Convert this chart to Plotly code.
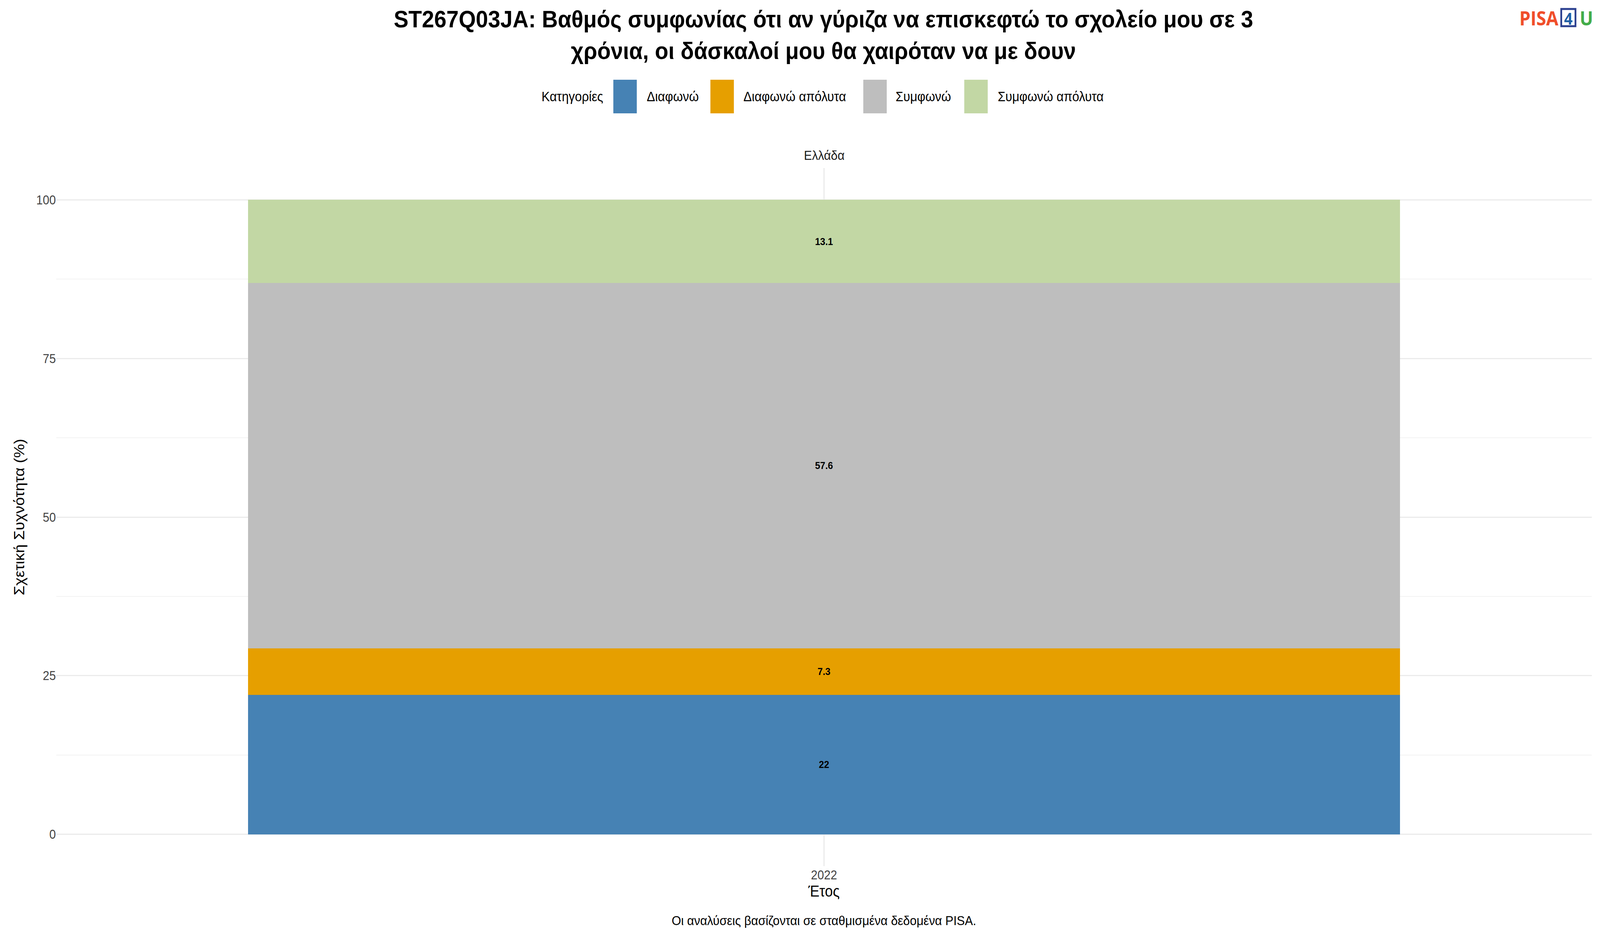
import plotly.graph_objects as go

years = ["2022"]
categories = ["Διαφωνώ", "Διαφωνώ απόλυτα", "Συμφωνώ", "Συμφωνώ απόλυτα"]
values = {
    "Διαφωνώ": [22.0],
    "Διαφωνώ απόλυτα": [7.3],
    "Συμφωνώ": [57.6],
    "Συμφωνώ απόλυτα": [13.1],
}
labels = {"Διαφωνώ": ["22"], "Διαφωνώ απόλυτα": ["7.3"], "Συμφωνώ": ["57.6"], "Συμφωνώ απόλυτα": ["13.1"]}
colors = ["#4682B4", "#E69F00", "#BEBEBE", "#C2D7A4"]
yticks = [0, 25, 50, 75, 100]

W, H = 4500, 2400
T, B, L, R = 430, 184, 158, 23
ph = H - T - B
pw = W - L - R
def py(p):
    return (H - B - p) / ph
def px(p):
    return (p - L) / pw

fig = go.Figure()
for c, col in zip(categories, colors):
    fig.add_trace(go.Bar(
        x=years, y=values[c], name=c, marker=dict(color=col, line=dict(width=0)),
        text=labels[c], textposition="inside", insidetextanchor="middle",
        textfont=dict(size=26, color="black", family="Liberation Sans"),
        texttemplate="<b>%{text}</b>", showlegend=False,
    ))

F = "Liberation Sans, Arial, sans-serif"
fig.update_layout(
    width=W, height=H, barmode="stack", bargap=0.25,
    plot_bgcolor="white", paper_bgcolor="white",
    margin=dict(t=T, b=B, l=L, r=R),
    font=dict(family=F, color="#222"),
    xaxis=dict(showgrid=True, gridcolor="#EBEBEB", gridwidth=3, ticks="", tickfont=dict(size=33, color="#444"),
               title=dict(text="Έτος", font=dict(size=40, color="black"), standoff=10)),
    yaxis=dict(range=[-5, 105], tickvals=yticks, showgrid=True, gridcolor="#EBEBEB", gridwidth=3,
               zeroline=False, tickfont=dict(size=33, color="#444"), ticks="",
               minor=dict(dtick=12.5, showgrid=True, gridcolor="#F3F3F3", gridwidth=2),
               title=dict(text="Σχετική Συχνότητα (%)", font=dict(size=40, color="black"), standoff=20)),
)
def ann(text, x, y, size, color="black", xanchor="center", family=F):
    fig.add_annotation(text=text, xref="paper", yref="paper", x=x, y=y, xanchor=xanchor, yanchor="middle",
                       showarrow=False, font=dict(size=size, color=color, family=family))

ann("<b>ST267Q03JA: Βαθμός συμφωνίας ότι αν γύριζα να επισκεφτώ το σχολείο μου σε 3<br>χρόνια, οι δάσκαλοί μου θα χαιρόταν να με δουν</b>",
    px(2316), py(89), 62)
# legend
ann("Κατηγορίες", px(1699), py(247), 35, xanchor="right")
box_x = [1725, 1998, 2428, 2712]
lab_x = [1817, 2089, 2517, 2804]
for c, col, bx, lx in zip(categories, colors, box_x, lab_x):
    fig.add_shape(type="rect", xref="paper", yref="paper", x0=px(bx), x1=px(bx + 66), y0=py(290), y1=py(204),
                  fillcolor=col, line=dict(width=0))
    ann(c, px(lx), py(247), 35, xanchor="left")
ann("Ελλάδα", 0.5, py(397), 34, color="#1a1a1a")
ann("Οι αναλύσεις βασίζονται σε σταθμισμένα δεδομένα PISA.", 0.5, py(2355), 34)
# logo
ann("<b>PISA</b>", px(4385), py(46), 50, color="#F04E2A", xanchor="right", family="Open Sans")
fig.add_shape(type="rect", xref="paper", yref="paper", x0=px(4391), x1=px(4431), y0=py(67), y1=py(23),
              line=dict(color="#2B3F8F", width=5), fillcolor="white")
ann("<b>4</b>", px(4411), py(46), 42, color="#1F5FA6", family="Open Sans")
ann("<b>U</b>", px(4441), py(46), 50, color="#43AC49", xanchor="left", family="Open Sans")

post = ("document.body.style.margin='0';document.body.style.overflow='hidden';"
        "var d=document.getElementById('{plot_id}');var sx=window.innerWidth/4500,sy=window.innerHeight/2400;"
        "d.style.transformOrigin='0 0';d.style.transform='scale('+sx+','+sy+')';")
fig.write_html("out.html", config={"displayModeBar": False}, post_script=post)
